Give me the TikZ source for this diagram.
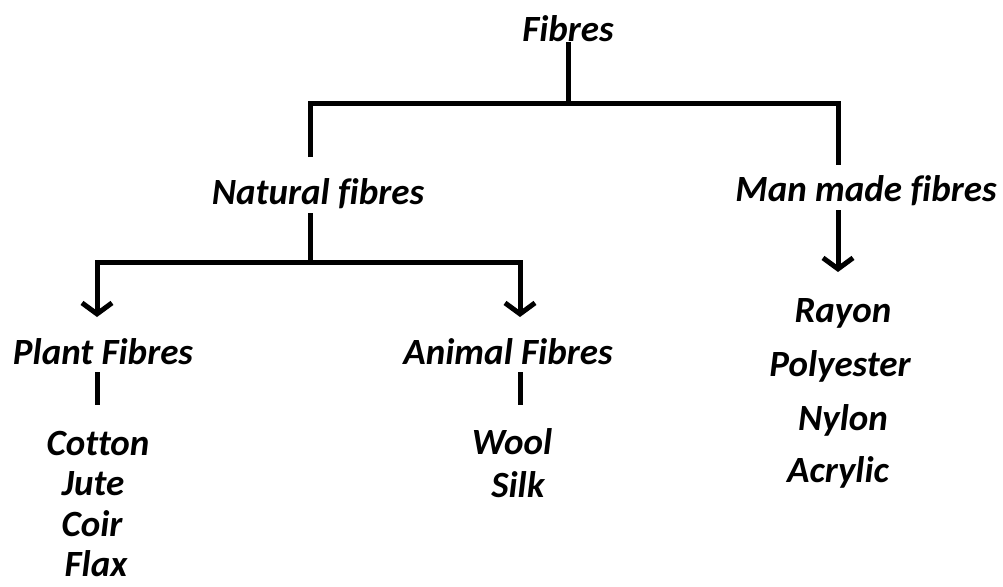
\documentclass[tikz,border=0pt]{standalone}
\usepackage{fontspec}
\setmainfont[Ligatures=NoCommon]{Carlito}
\usetikzlibrary{arrows.meta}
\begin{document}
\begin{tikzpicture}[x=1pt,y=-1pt,
  lbl/.style={font=\fontsize{37}{40}\selectfont\bfseries\itshape, inner sep=0pt, anchor=center},
  conn/.style={line width=5pt},
  arr/.style={line width=5pt, -{Straight Barb[length=11pt,width=30pt]}}]
\useasboundingbox (0,0) rectangle (1003,586);
\node[lbl] (fib) at (568,29) {Fibres};
\node[lbl] (nat) at (318,194) {Natural fibres};
\node[lbl] (man) at (866,191) {Man made fibres};
\node[lbl] (pla) at (103,352) {Plant Fibres};
\node[lbl] (ani) at (508,352) {Animal Fibres};
\node[lbl] (cot) at (98,443) {Cotton};
\node[lbl] (jut) at (93,484) {Jute};
\node[lbl] (coi) at (92,524) {Coir};
\node[lbl] (fla) at (96,564) {Flax};
\node[lbl] (woo) at (512,442) {Wool};
\node[lbl] (sil) at (518,485) {Silk};
\node[lbl] (ray) at (843,313) {Rayon};
\node[lbl] (pol) at (840,366) {Polyester};
\node[lbl] (nyl) at (843,420) {Nylon};
\node[lbl] (acr) at (838,472) {Acrylic};
\coordinate (f1) at (568,42);
\coordinate (j1) at (568,103);
\coordinate (hl) at (310,103);
\coordinate (hr) at (838,103);
\coordinate (nt) at (310,157);
\coordinate (mt) at (838,165);
\draw[conn] (f1) -- (j1);
\draw[conn] (nt) -- (hl) -- (hr) -- (mt);
\coordinate (n1) at (310,213);
\coordinate (n2) at (310,262);
\coordinate (nl) at (97,262);
\coordinate (nr) at (520,262);
\coordinate (pa) at (97,317);
\coordinate (aa) at (520,317);
\draw[conn] (n1) -- (n2);
\draw[arr] (n2) -- (nl) -- (pa);
\draw[arr] (n2) -- (nr) -- (aa);
\coordinate (m1) at (838,210);
\coordinate (m2) at (838,272);
\draw[arr] (m1) -- (m2);
\coordinate (p1) at (97,372);
\coordinate (p2) at (97,405);
\coordinate (a1) at (520,372);
\coordinate (a2) at (520,405);
\draw[conn] (p1) -- (p2);
\draw[conn] (a1) -- (a2);
\end{tikzpicture}
\end{document}
